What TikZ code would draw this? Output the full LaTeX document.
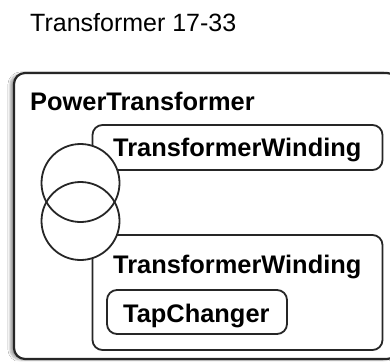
\documentclass[tikz,border=0pt]{standalone}
\usepackage{fontspec}
\setmainfont{Liberation Sans}
\usetikzlibrary{shadows.blur}
\begin{document}
\begin{tikzpicture}[x=1pt,y=-1pt,
  boxline/.style={draw=black!85, line width=1.8pt, rounded corners=10pt, fill=white},
  outerbox/.style={draw=black!85, line width=2.2pt, rounded corners=11pt, fill=white,
     blur shadow={shadow xshift=-4pt, shadow yshift=-1pt, shadow blur steps=6, shadow opacity=35}},
  lbl/.style={anchor=base west, inner sep=0pt, font=\fontsize{25.4}{28}\selectfont\bfseries},
  ttl/.style={anchor=base west, inner sep=0pt, font=\fontsize{25}{28}\selectfont},
  coil/.style={draw=black!85, line width=1.8pt}]
\useasboundingbox (0,0) rectangle (390,361);
\fill[white] (0,0) rectangle (390,361);
\node[ttl] (title) at (30,31.7) {Transformer 17-33};
\node[outerbox, minimum width=384pt, minimum height=286pt, inner sep=0pt] (pt) at (206,216) {};
\node[lbl] (ptl) at (30,110) {PowerTransformer};
\node[boxline, minimum width=290pt, minimum height=45pt, inner sep=0pt] (tw1) at (237.5,147.5) {};
\node[lbl] (tw1l) at (113,156) {TransformerWinding};
\node[boxline, minimum width=290pt, minimum height=115pt, inner sep=0pt] (tw2) at (237.5,292.5) {};
\node[lbl] (tw2l) at (113,273) {TransformerWinding};
\node[boxline, minimum width=180pt, minimum height=44pt, inner sep=0pt] (tc) at (197,312) {};
\node[lbl] (tcl) at (123,322) {TapChanger};
\coordinate (c1) at (80.5,183);
\coordinate (c2) at (80.5,221);
\fill[white] (c1) circle[radius=39];
\fill[white] (c2) circle[radius=39];
\draw[coil] (c1) circle[radius=39];
\draw[coil] (c2) circle[radius=39];
\end{tikzpicture}
\end{document}
